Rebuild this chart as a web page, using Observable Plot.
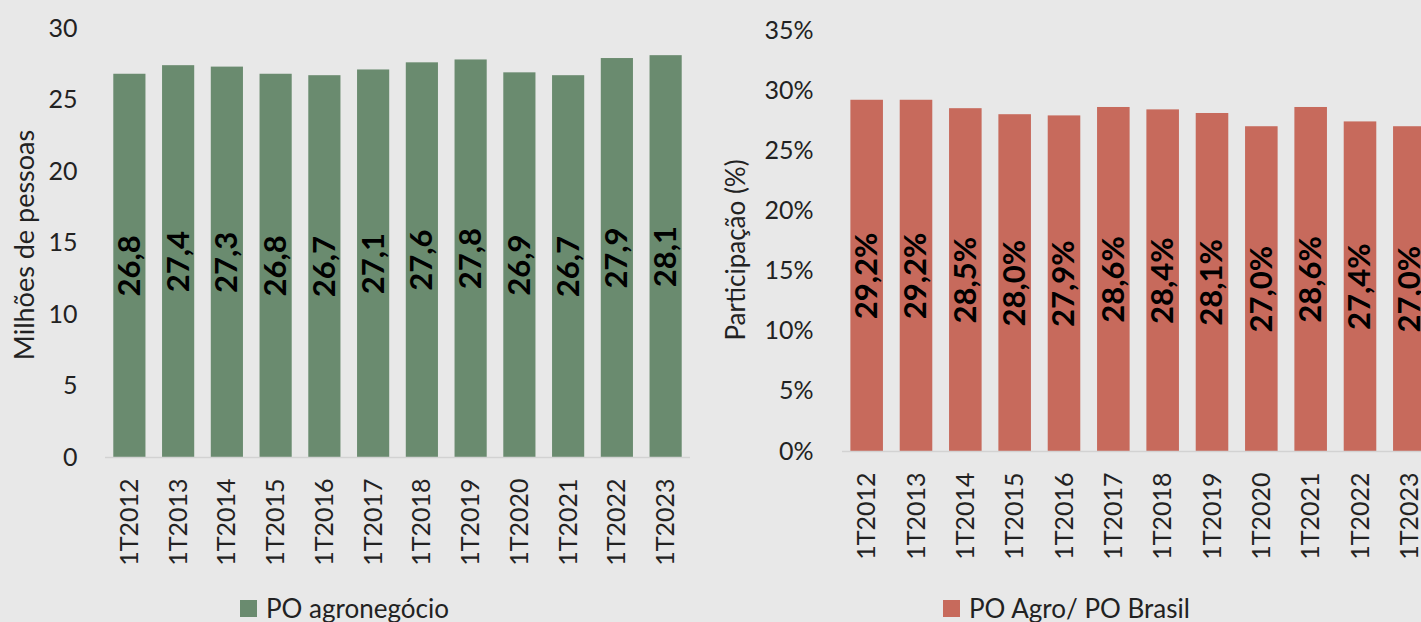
<!DOCTYPE html>
<html>
<head>
<meta charset="utf-8">
<script src="https://cdn.jsdelivr.net/npm/d3@7"></script>
<script src="https://cdn.jsdelivr.net/npm/@observablehq/plot@0.6"></script>
<style>
  html, body { margin: 0; padding: 0; background: #e8e8e8; }
  body { width: 1421px; height: 622px; overflow: hidden; position: relative; font-family: Lato, "Open Sans", sans-serif; }
  .panel { position: absolute; top: 0; }
  .panel svg { max-width: none !important; }
  .legend { position: absolute; display: flex; align-items: center; font-size: 26px; color: #222; white-space: nowrap; }
  .legend .sw { width: 17px; height: 17px; margin-right: 9px; }
</style>
</head>
<body>
<div id="left" class="panel" style="left:0px; width:700px"></div>
<div id="right" class="panel" style="left:700px; width:740px"></div>
<div class="legend" style="left:240px; top:592px"><span class="sw" style="background:#6a8b6f"></span><span>PO agronegócio</span></div>
<div class="legend" style="left:943px; top:592px"><span class="sw" style="background:#c76a5c"></span><span>PO Agro/ PO Brasil</span></div>
<script>
const periods = ["1T2012","1T2013","1T2014","1T2015","1T2016","1T2017","1T2018","1T2019","1T2020","1T2021","1T2022","1T2023"];
const agroPessoas = [26.8, 27.4, 27.3, 26.8, 26.7, 27.1, 27.6, 27.8, 26.9, 26.7, 27.9, 28.1];
const agroShare = [29.2, 29.2, 28.5, 28.0, 27.9, 28.6, 28.4, 28.1, 27.0, 28.6, 27.4, 27.0];
const leftTicks = [0, 5, 10, 15, 20, 25, 30];
const rightTicks = [0, 0.05, 0.10, 0.15, 0.20, 0.25, 0.30, 0.35];
const leftTitle = "Milhões de pessoas";
const rightTitle = "Participação (%)";

const fmtComma = v => v.toFixed(1).replace(".", ",");
const leftData = periods.map((p, i) => ({p, v: agroPessoas[i]}));
const rightData = periods.map((p, i) => ({p, v: agroShare[i] / 100}));

const H = 590;
const font = "Lato, 'Open Sans', sans-serif";

const left = Plot.plot({
  width: 700, height: H,
  marginTop: 28, marginBottom: H - 457, marginLeft: 105, marginRight: 10,
  style: {background: "transparent", fontFamily: font, fontSize: "25px", color: "#222", maxWidth: "none"},
  x: {domain: periods, paddingInner: 0.34, paddingOuter: 0.17, round: false, label: null, tickSize: 0, tickPadding: 21, tickRotate: -90},
  y: {domain: [0, 30], ticks: leftTicks, label: null, tickSize: 0, tickPadding: 28},
  marks: [
    Plot.barY(leftData, {x: "p", y: "v", fill: "#6a8b6f"}),
    Plot.ruleY([0], {stroke: "#d2d2d2", strokeWidth: 1.5}),
    Plot.text(leftData, {x: "p", y: d => d.v / 2, text: d => fmtComma(d.v), rotate: -90, fontWeight: "bold", fontSize: 31, fill: "#000"}),
    Plot.text([leftTitle], {frameAnchor: "left", textAnchor: "middle", dx: -80, dy: 2, rotate: -90, fontSize: 27, fill: "#222"})
  ]
});
document.getElementById("left").appendChild(left);

const right = Plot.plot({
  width: 740, height: H,
  marginTop: 30, marginBottom: H - 451, marginLeft: 142, marginRight: 6,
  style: {background: "transparent", fontFamily: font, fontSize: "25px", color: "#222", maxWidth: "none"},
  x: {domain: periods, paddingInner: 0.34, paddingOuter: 0.17, round: false, label: null, tickSize: 0, tickPadding: 21, tickRotate: -90},
  y: {domain: [0, 0.35], ticks: rightTicks, tickFormat: d => Math.round(d * 100) + "%", label: null, tickSize: 0, tickPadding: 29},
  marks: [
    Plot.barY(rightData, {x: "p", y: "v", fill: "#c76a5c"}),
    Plot.ruleY([0], {stroke: "#d2d2d2", strokeWidth: 1.5}),
    Plot.text(rightData, {x: "p", y: d => d.v / 2, text: d => fmtComma(d.v * 100) + "%", rotate: -90, fontWeight: "bold", fontSize: 31, fill: "#000"}),
    Plot.text([rightTitle], {frameAnchor: "left", textAnchor: "middle", dx: -106, dy: 9, rotate: -90, fontSize: 26, fill: "#222"})
  ]
});
document.getElementById("right").appendChild(right);
</script>
</body>
</html>
